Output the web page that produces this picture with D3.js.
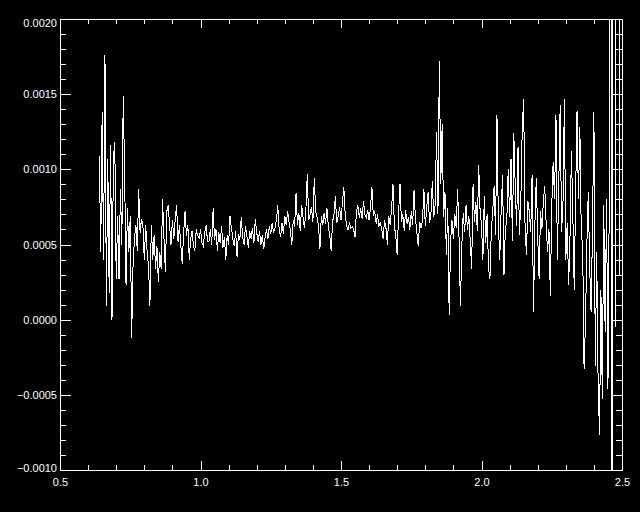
<!DOCTYPE html>
<html>
<head>
<meta charset="utf-8">
<script src="https://cdn.jsdelivr.net/npm/d3@7"></script>
<style>
  html, body { margin: 0; padding: 0; background: #000; }
  svg { display: block; }
  .tick text { font-family: "Liberation Sans", Arial, sans-serif; font-size: 11px; fill: #fff; }
</style>
</head>
<body>
<div id="chart"></div>
<script>
// sampling grid (x axis)
const wavelength = [
  0.640,0.645,0.650,0.655,0.660,0.665,0.670,0.675,0.680,0.685,
  0.690,0.695,0.700,0.705,0.710,0.715,0.720,0.725,0.730,0.735,
  0.740,0.745,0.750,0.755,0.760,0.765,0.770,0.775,0.780,0.785,
  0.790,0.795,0.800,0.805,0.810,0.815,0.820,0.825,0.830,0.835,
  0.840,0.845,0.850,0.855,0.860,0.865,0.870,0.875,0.880,0.885,
  0.890,0.895,0.900,0.905,0.910,0.915,0.920,0.925,0.930,0.935,
  0.940,0.945,0.950,0.955,0.960,0.965,0.970,0.975,0.980,0.985,
  0.990,0.995,1.000,1.005,1.010,1.015,1.020,1.025,1.030,1.035,
  1.040,1.045,1.050,1.055,1.060,1.065,1.070,1.075,1.080,1.085,
  1.090,1.095,1.100,1.105,1.110,1.115,1.120,1.125,1.130,1.135,
  1.140,1.145,1.150,1.155,1.160,1.165,1.170,1.175,1.180,1.185,
  1.190,1.195,1.200,1.205,1.210,1.215,1.220,1.225,1.230,1.235,
  1.240,1.245,1.250,1.255,1.260,1.265,1.270,1.275,1.280,1.285,
  1.290,1.295,1.300,1.305,1.310,1.315,1.320,1.325,1.330,1.335,
  1.340,1.345,1.350,1.355,1.360,1.365,1.370,1.375,1.380,1.385,
  1.390,1.395,1.400,1.405,1.410,1.415,1.420,1.425,1.430,1.435,
  1.440,1.445,1.450,1.455,1.460,1.465,1.470,1.475,1.480,1.485,
  1.490,1.495,1.500,1.505,1.510,1.515,1.520,1.525,1.530,1.535,
  1.540,1.545,1.550,1.555,1.560,1.565,1.570,1.575,1.580,1.585,
  1.590,1.595,1.600,1.605,1.610,1.615,1.620,1.625,1.630,1.635,
  1.640,1.645,1.650,1.655,1.660,1.665,1.670,1.675,1.680,1.685,
  1.690,1.695,1.700,1.705,1.710,1.715,1.720,1.725,1.730,1.735,
  1.740,1.745,1.750,1.755,1.760,1.765,1.770,1.775,1.780,1.785,
  1.790,1.795,1.800,1.805,1.810,1.815,1.820,1.825,1.830,1.835,
  1.840,1.845,1.850,1.855,1.860,1.865,1.870,1.875,1.880,1.885,
  1.890,1.895,1.900,1.905,1.910,1.915,1.920,1.925,1.930,1.935,
  1.940,1.945,1.950,1.955,1.960,1.965,1.970,1.975,1.980,1.985,
  1.990,1.995,2.000,2.005,2.010,2.015,2.020,2.025,2.030,2.035,
  2.040,2.045,2.050,2.055,2.060,2.065,2.070,2.075,2.080,2.085,
  2.090,2.095,2.100,2.105,2.110,2.115,2.120,2.125,2.130,2.135,
  2.140,2.145,2.150,2.155,2.160,2.165,2.170,2.175,2.180,2.185,
  2.190,2.195,2.200,2.205,2.210,2.215,2.220,2.225,2.230,2.235,
  2.240,2.245,2.250,2.255,2.260,2.265,2.270,2.275,2.280,2.285,
  2.290,2.295,2.300,2.305,2.310,2.315,2.320,2.325,2.330,2.335,
  2.340,2.345,2.350,2.355,2.360,2.365,2.370,2.375,2.380,2.385,
  2.390,2.395,2.400,2.405,2.410,2.415,2.420,2.425,2.430,2.435,
  2.440,2.445,2.450,2.455,
  2.459,2.463,2.467,2.478,2.483,2.491,2.495,2.500
];

// values in units of 1e-4
const flux = [
  10.9, 4.5, 13.8, 4.0, 17.6, 0.9, 10.7, 1.8, 11.6, 0.0,
  10.7, 11.8, 2.7, 6.9, 2.7, 8.7, 5.0, 14.9, 9.8, 2.3,
  7.4, 4.5, 6.9, -1.2, 3.6, 5.4, 6.3, 4.6, 8.7, 5.8,
  6.7, 6.3, 4.0, 6.3, 4.5, 3.6, 0.9, 6.3, 4.0, 5.6,
  3.4, 4.9, 2.5, 4.5, 3.4, 8.0, 5.4, 3.2, 7.2, 7.6,
  6.3, 5.0, 6.6, 5.4, 6.7, 7.6, 5.2, 6.3, 4.9, 3.7,
  5.8, 7.2, 5.6, 6.3, 4.0, 5.4, 5.9, 4.9, 4.6, 6.0,
  5.6, 5.4, 6.0, 5.1, 4.9, 5.8, 6.3, 5.2, 5.2, 6.0,
  5.0, 7.4, 5.3, 6.0, 4.6, 5.8, 5.1, 6.2, 4.8, 5.5,
  4.0, 5.6, 5.0, 6.9, 6.1, 5.4, 4.9, 5.9, 4.2, 5.7,
  5.3, 6.8, 5.5, 5.0, 6.2, 5.6, 4.8, 5.9, 5.4, 6.1,
  5.1, 6.7, 5.8, 5.2, 5.9, 5.0, 5.6, 4.7, 5.5, 6.0,
  5.4, 6.2, 5.7, 6.4, 5.8, 6.1, 6.6, 7.6, 6.0, 5.5,
  6.4, 5.7, 6.9, 6.3, 7.2, 6.5, 5.9, 5.0, 6.6, 6.2,
  8.4, 6.3, 7.1, 5.9, 7.6, 6.8, 6.1, 7.3, 9.7, 6.6,
  7.0, 7.5, 6.5, 9.4, 7.2, 6.8, 6.2, 4.7, 6.9, 6.3,
  7.1, 6.4, 7.4, 6.2, 5.6, 4.6, 6.5, 7.0, 8.2, 6.4,
  6.9, 7.5, 6.6, 7.8, 8.8, 7.0, 6.2, 6.0, 6.4, 6.1,
  6.2, 6.0, 5.5, 7.2, 7.6, 6.8, 7.4, 6.7, 7.9, 7.0,
  6.8, 7.3, 6.6, 7.5, 8.8, 6.9, 7.2, 6.4, 7.0, 6.2,
  6.5, 6.0, 5.4, 6.6, 6.1, 5.0, 6.9, 6.3, 7.4, 9.0,
  6.2, 5.6, 4.3, 7.1, 9.0, 6.5, 7.0, 5.9, 7.3, 6.4,
  6.8, 6.0, 7.2, 6.3, 8.6, 6.7, 5.8, 4.9, 6.5, 6.1,
  6.6, 8.7, 6.2, 7.5, 8.5, 6.4, 7.0, 9.2, 6.8, 7.6,
  12.5, 7.0, 17.2, 9.0, 13.0, 6.8, 8.5, 4.3, 7.4, 0.3,
  5.2, 6.6, 5.4, 7.0, 6.1, 8.7, 5.5, 0.9, 5.0, 7.1,
  5.8, 7.6, 6.0, 6.9, 5.2, 3.4, 9.0, 6.5, 7.8, 5.9,
  10.3, 7.2, 6.3, 4.0, 8.2, 5.1, 7.0, 3.4, 2.7, 6.0,
  7.2, 8.9, 5.6, 13.6, 6.4, 4.0, 7.3, 9.6, 3.0, 6.1,
  6.5, 10.0, 6.8, 10.7, 5.2, 12.4, 8.9, 6.2, 11.5, 5.6,
  8.0, 12.7, 14.7, 6.2, 4.3, 7.9, 7.2, 5.8, 9.6, 0.5,
  6.3, 9.4, 5.5, 2.7, 7.2, 6.0, 7.8, 8.9, 6.4, 4.5,
  6.0, 1.6, 7.5, 10.5, 8.0, 13.6, 4.0, 9.0, 14.3, 5.8,
  7.8, 14.7, 4.0, 6.4, 2.3, 5.5, 11.2, 7.0, 2.0, 8.4,
  13.9, 8.0, 12.8, 5.8, 4.9, -3.3, -0.2, 5.0, 8.5, 3.5,
  0.5, 6.0, 13.8, -3.1, 4.5, -4.2, -7.7, 2.0, -5.3, 7.6,
  -0.8, 8.0, -4.6, 8.9,
  300, -300, 300, -0.5, 300, 3.0, 300, 300
];
const fluxUnit = 1e-4;

const xMajorTicks = [0.5, 1.0, 1.5, 2.0, 2.5];
const xTickLabels = ['0.5', '1.0', '1.5', '2.0', '2.5'];
const xMinorTicks = [0.6, 0.7, 0.8, 0.9, 1.1, 1.2, 1.3, 1.4, 1.6, 1.7, 1.8, 1.9, 2.1, 2.2, 2.3, 2.4];

const yMajorTicks = [-0.0010, -0.0005, 0.0000, 0.0005, 0.0010, 0.0015, 0.0020];
const yTickLabels = ['\u22120.0010', '\u22120.0005', '0.0000', '0.0005', '0.0010', '0.0015', '0.0020'];
const yMinorTicks = [-0.0009, -0.0008, -0.0007, -0.0006, -0.0004, -0.0003, -0.0002, -0.0001,
  0.0001, 0.0002, 0.0003, 0.0004, 0.0006, 0.0007, 0.0008, 0.0009,
  0.0011, 0.0012, 0.0013, 0.0014, 0.0016, 0.0017, 0.0018, 0.0019];

const width = 640;
const height = 512;
const plotLeft = 60, plotRight = 622, plotTop = 19, plotBottom = 470;

const x = d3.scaleLinear().domain([0.5, 2.5]).range([plotLeft, plotRight]);
const y = d3.scaleLinear().domain([-0.001, 0.002]).range([plotBottom, plotTop]);

const svg = d3.select('#chart')
  .append('svg')
  .attr('width', width)
  .attr('height', height)
  .style('background', '#000');

svg.append('defs').append('clipPath')
  .attr('id', 'plot-clip')
  .append('rect')
  .attr('x', plotLeft)
  .attr('y', plotTop)
  .attr('width', plotRight - plotLeft + 1)
  .attr('height', plotBottom - plotTop);

const points = wavelength.map((w, i) => ({ w: w, f: flux[i] * fluxUnit }));

const line = d3.line()
  .x(d => x(d.w))
  .y(d => y(d.f));

svg.append('path')
  .datum(points)
  .attr('clip-path', 'url(#plot-clip)')
  .attr('fill', 'none')
  .attr('stroke', '#fff')
  .attr('stroke-width', 1)
  .attr('shape-rendering', 'crispEdges')
  .attr('d', line);

// tick length as in IDL: 2% of the plot region
const xTickLen = 0.02 * (plotBottom - plotTop);
const yTickLen = 0.02 * (plotRight - plotLeft);

function styleAxis(g) {
  g.selectAll('path, line')
    .attr('stroke', '#fff')
    .attr('shape-rendering', 'crispEdges');
}

function drawAxis(axis, tx, ty, keepDomain) {
  const g = svg.append('g')
    .attr('transform', `translate(${tx},${ty})`)
    .call(axis);
  if (!keepDomain) g.select('.domain').remove();
  styleAxis(g);
  return g;
}

// bottom axis with labels
drawAxis(d3.axisBottom(x).tickValues(xMajorTicks).tickSizeInner(-xTickLen).tickSizeOuter(0)
  .tickPadding(8).tickFormat((d, i) => xTickLabels[i]), 0, plotBottom, true);
drawAxis(d3.axisBottom(x).tickValues(xMinorTicks).tickSizeInner(-xTickLen / 2).tickSizeOuter(0)
  .tickFormat(() => ''), 0, plotBottom, false);

// top axis, ticks only
drawAxis(d3.axisTop(x).tickValues(xMajorTicks).tickSizeInner(-xTickLen).tickSizeOuter(0)
  .tickFormat(() => ''), 0, plotTop, true);
drawAxis(d3.axisTop(x).tickValues(xMinorTicks).tickSizeInner(-xTickLen / 2).tickSizeOuter(0)
  .tickFormat(() => ''), 0, plotTop, false);

// left axis with labels
const leftAxis = drawAxis(d3.axisLeft(y).tickValues(yMajorTicks).tickSizeInner(-yTickLen).tickSizeOuter(0)
  .tickPadding(3).tickFormat((d, i) => yTickLabels[i]), plotLeft, 0, true);
drawAxis(d3.axisLeft(y).tickValues(yMinorTicks).tickSizeInner(-yTickLen / 2).tickSizeOuter(0)
  .tickFormat(() => ''), plotLeft, 0, false);

// keep the end labels inside the frame height
leftAxis.selectAll('.tick text')
  .attr('y', d => d === 0.0020 ? 4 : (d === -0.0010 ? -2.5 : 0));

// right axis, ticks only
drawAxis(d3.axisRight(y).tickValues(yMajorTicks).tickSizeInner(-yTickLen).tickSizeOuter(0)
  .tickFormat(() => ''), plotRight, 0, true);
drawAxis(d3.axisRight(y).tickValues(yMinorTicks).tickSizeInner(-yTickLen / 2).tickSizeOuter(0)
  .tickFormat(() => ''), plotRight, 0, false);
</script>
</body>
</html>
